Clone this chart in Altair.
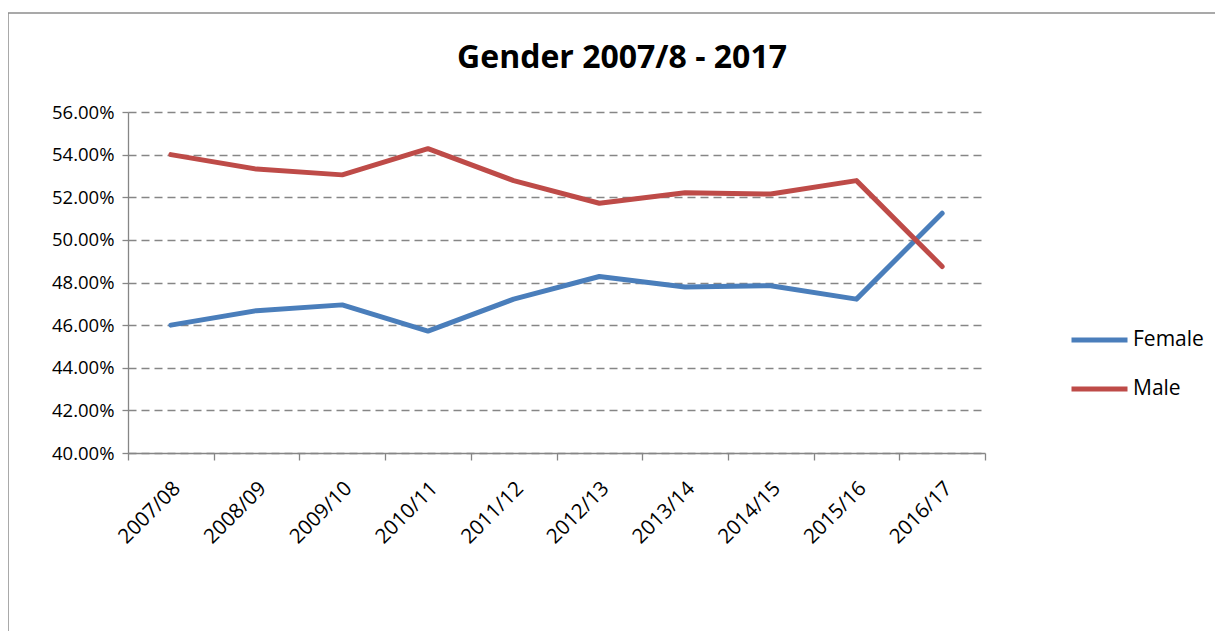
import altair as alt
import pandas as pd

years = ["2007/08", "2008/09", "2009/10", "2010/11", "2011/12",
         "2012/13", "2013/14", "2014/15", "2015/16", "2016/17"]
female = [0.4600, 0.4668, 0.4695, 0.4572, 0.4722, 0.4828, 0.4779, 0.4785, 0.4722, 0.5125]
male = [0.5400, 0.5332, 0.5305, 0.5428, 0.5278, 0.5172, 0.5221, 0.5215, 0.5278, 0.4875]
series = ["Female", "Male"]
colors = ["#4A7EBB", "#BE4B48"]
y_ticks = [0.40, 0.42, 0.44, 0.46, 0.48, 0.50, 0.52, 0.54, 0.56]
title_text = "Gender 2007/8 - 2017"

rows = []
for yr, f, m in zip(years, female, male):
    rows.append({"year": yr, "series": "Female", "value": f})
    rows.append({"year": yr, "series": "Male", "value": m})
df = pd.DataFrame(rows)

FONT = "Open Sans"
GRAY = "#868686"

lines = alt.Chart(df).mark_line(strokeWidth=5, strokeCap="round", strokeJoin="round").encode(
    x=alt.X("year:N", sort=years, bandPosition=0.5,
            scale=alt.Scale(type="band", paddingInner=0, paddingOuter=0),
            axis=alt.Axis(title=None, tickBand="extent", labelAngle=315,
                          labelAlign="right", labelBaseline="top",
                          labelPadding=18, labelOffset=-1, tickSize=7,
                          domainColor=GRAY, tickColor=GRAY, domainWidth=1.3, tickWidth=1.3,
                          labelFont=FONT, labelFontSize=20.5, labelColor="black", grid=False)),
    y=alt.Y("value:Q", scale=alt.Scale(domain=[0.40, 0.56], nice=False, zero=False),
            axis=alt.Axis(title=None, values=y_ticks, format=".2%", grid=True,
                          gridDash=[8, 5], gridColor=GRAY, gridWidth=1.3,
                          tickSize=6, tickColor=GRAY, tickWidth=1.3,
                          domainColor=GRAY, domainWidth=1.3, labelPadding=8,
                          labelFont=FONT, labelFontSize=18.5, labelColor="black")),
    color=alt.Color("series:N", scale=alt.Scale(domain=series, range=colors),
                    legend=alt.Legend(title=None, orient="none", legendX=941, legendY=218,
                                      symbolType="stroke", symbolSize=3136,
                                      symbolStrokeWidth=5, clipHeight=20, rowPadding=28,
                                      labelFont=FONT, labelFontSize=21, labelColor="black",
                                      labelOffset=3, padding=0)),
)

title_df = pd.DataFrame({"t": [title_text]})
title = alt.Chart(title_df).mark_text(font=FONT, fontSize=32, fontWeight="bold",
                                      align="center", baseline="alphabetic", color="black").encode(
    text="t:N", x=alt.value(494), y=alt.value(-44))

frame_df = pd.DataFrame({"k": [0]})
top_border = alt.Chart(frame_df).mark_rule(color="#8c8c8c", strokeWidth=1.5).encode(
    x=alt.value(-123), x2=alt.value(1100), y=alt.value(-99))
left_border = alt.Chart(frame_df).mark_rule(color="#8c8c8c", strokeWidth=1.5).encode(
    x=alt.value(-120), y=alt.value(-99), y2=alt.value(540))

chart = alt.layer(top_border, left_border, lines, title).properties(
    width=857, height=341,
    autosize=alt.AutoSizeParams(type="none"),
    padding={"left": 120, "top": 104, "right": 230, "bottom": 178},
).configure_view(stroke=None)

chart.save("out.html", embed_options={"renderer": "svg", "actions": False})
